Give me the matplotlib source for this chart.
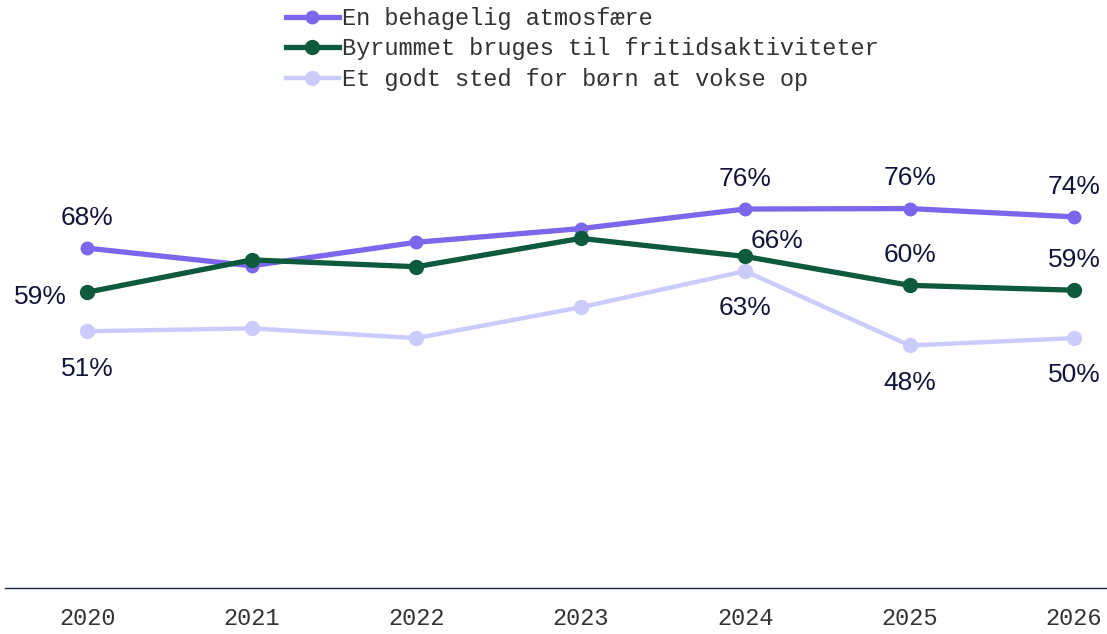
import matplotlib.pyplot as plt

years = [2020, 2021, 2022, 2023, 2024, 2025, 2026]
atmosfaere = [68, 64.4, 69.2, 72, 76, 76.1, 74.4]
fritid = [59, 65.6, 64.2, 70, 66.3, 60.4, 59.4]
boern = [51, 51.6, 49.6, 55.9, 63.3, 48.1, 49.6]

names = ["En behagelig atmosfære",
         "Byrummet bruges til fritidsaktiviteter",
         "Et godt sted for børn at vokse op"]
colors = ["#7B66EC", "#0E5A3C", "#CCCCFC"]
label_years = [2020, 2024, 2025, 2026]

text_color = "#13143A"
mono = "Liberation Mono"
sans = "Liberation Sans"
lbl_size = 19

fig = plt.figure(figsize=(11.07, 6.34), dpi=100)
ax = fig.add_axes([5 / 1107, 1 - 588 / 634, 1 - 5 / 1107, (588 - 100) / 634])

ax.plot(years, boern, color=colors[2], lw=3.2, marker="o", ms=10, label=names[2], zorder=2)
ax.plot(years, atmosfaere, color=colors[0], lw=3.8, marker="o", ms=9, label=names[0], zorder=3)
ax.plot(years, fritid, color=colors[1], lw=3.8, marker="o", ms=10, label=names[1], zorder=4)

ax.set_xlim(2019.5, 2026.2)
ax.set_ylim(-1.5, 98.3)

# data labels
for x, v in zip(years, atmosfaere):
    if x in label_years:
        ax.annotate(f"{v:.0f}%", (x, v), xytext=(0, 23.5), textcoords="offset points",
                    ha="center", va="center_baseline", fontsize=lbl_size,
                    color=text_color, family=sans)
for x, v in zip(years, boern):
    if x in label_years:
        ax.annotate(f"{v:.0f}%", (x, v), xytext=(0, -25), textcoords="offset points",
                    ha="center", va="center_baseline", fontsize=lbl_size,
                    color=text_color, family=sans)
for x, v in zip(years, fritid):
    if x not in label_years:
        continue
    ha = "center"
    if x == 2020:
        off = (-15, -1.5)
        ha = "right"
    elif x == 2024:
        off = (23, 13)
    else:
        off = (0, 23.5)
    ax.annotate(f"{v:.0f}%", (x, v), xytext=off, textcoords="offset points",
                ha=ha, va="center_baseline", fontsize=lbl_size,
                color=text_color, family=sans)

for s in ["top", "right", "left"]:
    ax.spines[s].set_visible(False)
ax.spines["bottom"].set_color("#1B2244")
ax.spines["bottom"].set_linewidth(1)
ax.set_yticks([])
ax.set_xticks(years)
ax.set_xticklabels([str(y) for y in years], family=mono, fontsize=17, color="#333333")
ax.tick_params(axis="x", length=0, pad=14)

handles, labels = ax.get_legend_handles_labels()
order = [1, 2, 0]
leg = fig.legend([handles[i] for i in order], [labels[i] for i in order],
                 loc="upper left", bbox_to_anchor=(267 / 1107, 1.0 + 12 / 634), frameon=False,
                 prop={"family": mono, "size": 17}, handlelength=2.25,
                 handletextpad=0.12, labelspacing=0.32, borderpad=0.3)
for t in leg.get_texts():
    t.set_color("#333333")

fig.savefig("out.png", dpi=100)
